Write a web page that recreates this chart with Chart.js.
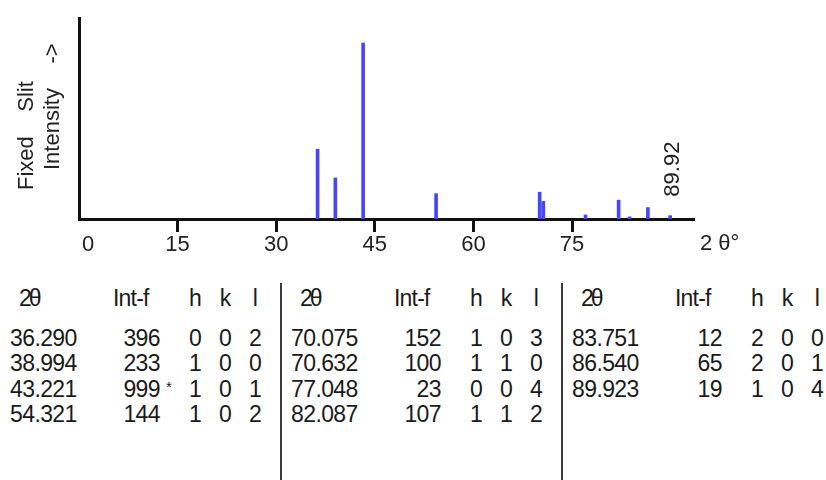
<!DOCTYPE html>
<html>
<head>
<meta charset="utf-8">
<script src="https://cdn.jsdelivr.net/npm/chart.js@4/dist/chart.umd.min.js"></script>
<style>
html,body{margin:0;padding:0;background:#fff;}
#wrap{position:relative;width:826px;height:480px;overflow:hidden;font-family:"Liberation Sans",Arial,sans-serif;color:#1a1a1a;}
#chartBox{position:absolute;left:0;top:0;width:826px;height:280px;}
.t{position:absolute;font-size:23px;letter-spacing:-0.6px;line-height:26px;height:26px;white-space:nowrap;}
.hd{letter-spacing:-0.8px;}
.th{letter-spacing:-3px;}
.r{text-align:right;}
.c{text-align:center;width:20px;}
.star{position:absolute;font-size:15px;line-height:16px;}
.vline{position:absolute;width:2px;background:#3a3a3a;top:283px;height:197px;}
</style>
</head>
<body>
<div id="wrap">
  <div id="chartBox"><canvas id="c" width="826" height="280"></canvas></div>
  <div id="table"></div>
</div>
<script>
const twoTheta  = [36.290, 38.994, 43.221, 54.321, 70.075, 70.632, 77.048, 82.087, 83.751, 86.540, 89.923];
const intensity = [396, 233, 999, 144, 152, 100, 23, 107, 12, 65, 19];
const hIdx      = [0, 1, 1, 1, 1, 1, 0, 1, 2, 2, 1];
const kIdx      = [0, 0, 0, 0, 0, 1, 0, 1, 0, 0, 0];
const lIdx      = [2, 0, 1, 2, 3, 0, 4, 2, 0, 1, 4];
const intMark   = ['', '', '*', '', '', '', '', '', '', '', ''];
const xTickValues = [0, 15, 30, 45, 60, 75];
const xTickLabels = ['0', '15', '30', '45', '60', '75'];
const xMin = 0, xMax = 93.4;
const yMin = 0, yMax = 1141;
const lastPeakLabel = '89.92';
const yTitleLines = ['Fixed    Slit', 'Intensity    ->'];
const xUnitLabel = '2 θ°';
const tableHeaders = ['2θ', 'Int-f', 'h', 'k', 'l'];
const tableBlocks = [[0, 1, 2, 3], [4, 5, 6, 7], [8, 9, 10]];

const FONT = '"Liberation Sans", Arial, sans-serif';

// ---- annotation plugin (axis titles, peak label) ----
const annotPlugin = {
  id: 'annot',
  afterDraw(chart) {
    const {ctx, chartArea, scales} = chart;
    const xs = scales.x, ys = scales.y;
    ctx.save();
    ctx.fillStyle = '#222';
    ctx.font = '22px ' + FONT;
    // x unit label
    ctx.textAlign = 'left';
    ctx.textBaseline = 'middle';
    ctx.fillText(xUnitLabel, chartArea.right + 7, 244);
    // y axis title (rotated)
    ctx.textBaseline = 'alphabetic';
    const baseX = [33, 58.5];
    const startY = [190, 170];
    yTitleLines.forEach((s, i) => {
      ctx.save();
      ctx.translate(baseX[i], startY[i]);
      ctx.rotate(-Math.PI / 2);
      ctx.fillText(s, 0, 0);
      ctx.restore();
    });
    // last peak label
    const li = twoTheta.length - 1;
    const px = xs.getPixelForValue(twoTheta[li]);
    const py = ys.getPixelForValue(intensity[li]);
    ctx.save();
    ctx.translate(px + 9, py - 19);
    ctx.rotate(-Math.PI / 2);
    ctx.fillText(lastPeakLabel, 0, 0);
    ctx.restore();
    ctx.restore();
  }
};

new Chart(document.getElementById('c'), {
  type: 'bar',
  data: {
    datasets: [{
      data: twoTheta.map((t, i) => ({x: t, y: intensity[i]})),
      backgroundColor: '#4646ff',
      borderWidth: 0,
      barThickness: 3
    }]
  },
  options: {
    responsive: false,
    animation: false,
    devicePixelRatio: 1,
    layout: {padding: {left: 69, right: 133, top: 18, bottom: 0}},
    plugins: {legend: {display: false}, tooltip: {enabled: false}},
    scales: {
      x: {
        type: 'linear',
        offset: false,
        min: xMin, max: xMax,
        afterBuildTicks: (scale) => { scale.ticks = xTickValues.map(v => ({value: v})); },
        afterFit: (scale) => { scale.height = 61; },
        border: {display: true, color: '#111', width: 3},
        grid: {
          display: true,
          offset: false,
          drawOnChartArea: false,
          drawTicks: true,
          tickLength: 13,
          lineWidth: 3,
          color: (ctx) => (ctx.tick && ctx.tick.value === 0) ? 'rgba(0,0,0,0)' : '#111'
        },
        ticks: {
          padding: 0,
          maxRotation: 0,
          autoSkip: false,
          color: '#222',
          font: {family: FONT, size: 22},
          callback: (v) => {
            const i = xTickValues.indexOf(v);
            const s = i >= 0 ? xTickLabels[i] : '';
            return v === 0 ? '   ' + s : s;
          }
        }
      },
      y: {
        min: yMin, max: yMax,
        afterFit: (scale) => { scale.width = 10; },
        border: {display: true, color: '#111', width: 3},
        grid: {display: false, lineWidth: 3},
        ticks: {display: false}
      }
    }
  },
  plugins: [annotPlugin]
});

// ---- hkl table ----
const table = document.getElementById('table');
const blockLeft = [10, 291, 572];
const headerY = 298;
const rowY = [337.5, 363, 388.5, 414];
function addText(txt, cls, left, cy, width) {
  const d = document.createElement('div');
  d.className = 't ' + cls;
  d.textContent = txt;
  d.style.left = left + 'px';
  d.style.top = (cy - 13) + 'px';
  if (width) d.style.width = width + 'px';
  table.appendChild(d);
  return d;
}
tableBlocks.forEach((rows, b) => {
  const L = blockLeft[b];
  addText(tableHeaders[0], 'hd th', L + 9, headerY);
  addText(tableHeaders[1], 'hd', L + 103, headerY);
  addText(tableHeaders[2], 'hd c', L + 175, headerY);
  addText(tableHeaders[3], 'hd c', L + 205, headerY);
  addText(tableHeaders[4], 'hd c', L + 235, headerY);
  rows.forEach((idx, r) => {
    const cy = rowY[r];
    addText(twoTheta[idx].toFixed(3), '', L, cy);
    addText(String(intensity[idx]), 'r', L + 90, cy, 60);
    if (intMark[idx]) {
      const s = document.createElement('div');
      s.className = 'star';
      s.textContent = intMark[idx];
      s.style.left = (L + 156) + 'px';
      s.style.top = (cy - 10) + 'px';
      table.appendChild(s);
    }
    addText(String(hIdx[idx]), 'c', L + 175, cy);
    addText(String(kIdx[idx]), 'c', L + 205, cy);
    addText(String(lIdx[idx]), 'c', L + 235, cy);
  });
});
[281, 562].forEach(x => {
  const v = document.createElement('div');
  v.className = 'vline';
  v.style.left = (x - 1) + 'px';
  table.appendChild(v);
});
</script>
</body>
</html>
